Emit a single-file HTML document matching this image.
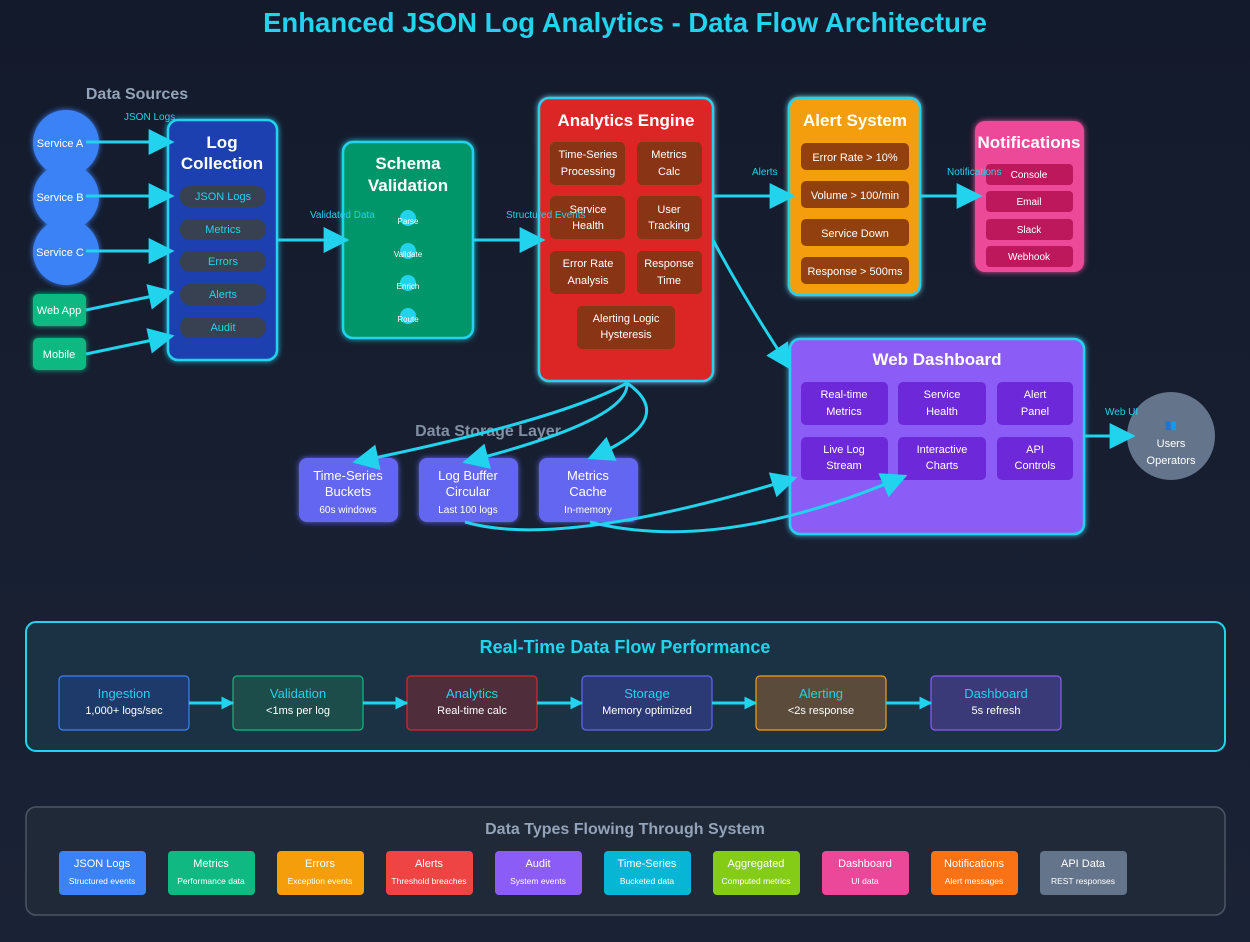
<!DOCTYPE html>
<html><head><meta charset="utf-8"><style>
html,body{margin:0;padding:0;background:#141b2d;}
svg{display:block;font-family:"Liberation Sans",sans-serif;}
</style></head><body>
<svg width="1250" height="942" viewBox="0 0 1250 942" xmlns="http://www.w3.org/2000/svg">
<defs>
<marker id="a" viewBox="0 0 10 10" refX="9" refY="5" markerWidth="13" markerHeight="16" markerUnits="userSpaceOnUse" orient="auto"><path d="M0,0L10,5L0,10z" fill="#22d3ee"/></marker>
<marker id="b" viewBox="0 0 10 10" refX="9" refY="5" markerWidth="36" markerHeight="26" markerUnits="userSpaceOnUse" orient="auto"><path d="M0,0L10,5L0,10z" fill="#22d3ee"/></marker>
<filter id="g" x="-20%" y="-20%" width="140%" height="140%"><feGaussianBlur stdDeviation="3" result="b"/><feMerge><feMergeNode in="b"/><feMergeNode in="SourceGraphic"/></feMerge></filter>
<linearGradient id="bg" x1="0" y1="0" x2="0" y2="1"><stop offset="0" stop-color="#131a2c"/><stop offset="1" stop-color="#1a2335"/></linearGradient>
</defs>
<rect width="1250" height="942" fill="url(#bg)"/>
<text x="625" y="32" text-anchor="middle" font-size="27.5" font-weight="bold" fill="#22d3ee">Enhanced JSON Log Analytics - Data Flow Architecture</text>

<text x="137" y="99" text-anchor="middle" font-size="16" font-weight="bold" fill="#94a3b8">Data Sources</text>
<g filter="url(#g)">
<circle cx="66" cy="143" r="33" fill="#3b82f6"/>
<circle cx="66" cy="197" r="33" fill="#3b82f6"/>
<circle cx="66" cy="252" r="33" fill="#3b82f6"/>
<rect x="33" y="294" width="53" height="32" rx="5" fill="#10b981"/>
<rect x="33" y="338" width="53" height="32" rx="5" fill="#10b981"/>
</g>
<g font-size="11" fill="#fff" text-anchor="middle">
<text x="60" y="147">Service A</text><text x="60" y="201">Service B</text><text x="60" y="256">Service C</text>
<text x="59" y="314">Web App</text><text x="59" y="358">Mobile</text>
</g>

<!-- Log Collection -->
<rect x="168" y="120" width="109" height="240" rx="10" fill="#1e40af" stroke="#22d3ee" stroke-width="2.5" filter="url(#g)"/>
<g font-size="17" font-weight="bold" fill="#fff" text-anchor="middle"><text x="222" y="148">Log</text><text x="222" y="169">Collection</text></g>
<g fill="#374151"><rect x="180" y="186" width="86" height="21" rx="10"/><rect x="180" y="219" width="86" height="21" rx="10"/><rect x="180" y="251" width="86" height="21" rx="10"/><rect x="180" y="284" width="86" height="21" rx="10"/><rect x="180" y="317" width="86" height="21" rx="10"/></g>
<g font-size="11" fill="#22d3ee" text-anchor="middle"><text x="223" y="200">JSON Logs</text><text x="223" y="233">Metrics</text><text x="223" y="265">Errors</text><text x="223" y="298">Alerts</text><text x="223" y="331">Audit</text></g>

<!-- Schema -->
<rect x="343" y="142" width="130" height="196" rx="10" fill="#059669" stroke="#22d3ee" stroke-width="2.5" filter="url(#g)"/>
<g font-size="17" font-weight="bold" fill="#fff" text-anchor="middle"><text x="408" y="169">Schema</text><text x="408" y="191">Validation</text></g>
<g fill="#22d3ee"><circle cx="408" cy="218" r="8"/><circle cx="408" cy="251" r="8"/><circle cx="408" cy="283" r="8"/><circle cx="408" cy="316" r="8"/></g>
<g font-size="8" fill="#fff" text-anchor="middle"><text x="408" y="224">Parse</text><text x="408" y="257">Validate</text><text x="408" y="289">Enrich</text><text x="408" y="322">Route</text></g>

<!-- Analytics -->
<rect x="539" y="98" width="174" height="283" rx="10" fill="#dc2626" stroke="#22d3ee" stroke-width="2.5" filter="url(#g)"/>
<text x="626" y="126" text-anchor="middle" font-size="17" font-weight="bold" fill="#fff">Analytics Engine</text>
<g fill="#8a3416">
<rect x="550" y="142" width="75" height="43" rx="5"/><rect x="637" y="142" width="65" height="43" rx="5"/>
<rect x="550" y="196" width="75" height="43" rx="5"/><rect x="637" y="196" width="65" height="43" rx="5"/>
<rect x="550" y="251" width="75" height="43" rx="5"/><rect x="637" y="251" width="65" height="43" rx="5"/>
<rect x="577" y="306" width="98" height="43" rx="5"/>
</g>
<g font-size="11" fill="#fff" text-anchor="middle">
<text x="588" y="158">Time-Series</text><text x="588" y="175">Processing</text>
<text x="669" y="158">Metrics</text><text x="669" y="175">Calc</text>
<text x="588" y="213">Service</text><text x="588" y="229">Health</text>
<text x="669" y="213">User</text><text x="669" y="229">Tracking</text>
<text x="588" y="267">Error Rate</text><text x="588" y="284">Analysis</text>
<text x="669" y="267">Response</text><text x="669" y="284">Time</text>
<text x="626" y="322">Alerting Logic</text><text x="626" y="338">Hysteresis</text>
</g>

<!-- Alert -->
<rect x="789" y="98" width="131" height="197" rx="10" fill="#f59e0b" stroke="#22d3ee" stroke-width="2.5" filter="url(#g)"/>
<text x="855" y="126" text-anchor="middle" font-size="17" font-weight="bold" fill="#fff">Alert System</text>
<g fill="#92400e"><rect x="801" y="143" width="108" height="27" rx="5"/><rect x="801" y="181" width="108" height="27" rx="5"/><rect x="801" y="219" width="108" height="27" rx="5"/><rect x="801" y="257" width="108" height="27" rx="5"/></g>
<g font-size="11" fill="#fff" text-anchor="middle"><text x="855" y="161">Error Rate &gt; 10%</text><text x="855" y="199">Volume &gt; 100/min</text><text x="855" y="237">Service Down</text><text x="855" y="275">Response &gt; 500ms</text></g>

<!-- Notifications -->
<rect x="975" y="121" width="109" height="151" rx="10" fill="#ec4899" filter="url(#g)"/>
<text x="1029" y="148" text-anchor="middle" font-size="17" font-weight="bold" fill="#fff">Notifications</text>
<g fill="#be185d"><rect x="986" y="164" width="87" height="21" rx="4"/><rect x="986" y="191" width="87" height="21" rx="4"/><rect x="986" y="219" width="87" height="21" rx="4"/><rect x="986" y="246" width="87" height="21" rx="4"/></g>
<g font-size="10" fill="#fff" text-anchor="middle"><text x="1029" y="178">Console</text><text x="1029" y="205">Email</text><text x="1029" y="233">Slack</text><text x="1029" y="260">Webhook</text></g>

<!-- Dashboard -->
<rect x="790" y="339" width="294" height="195" rx="10" fill="#8b5cf6" stroke="#22d3ee" stroke-width="2.5" filter="url(#g)"/>
<text x="937" y="365" text-anchor="middle" font-size="17" font-weight="bold" fill="#fff">Web Dashboard</text>
<g fill="#6d28d9">
<rect x="801" y="382" width="87" height="43" rx="5"/><rect x="898" y="382" width="88" height="43" rx="5"/><rect x="997" y="382" width="76" height="43" rx="5"/>
<rect x="801" y="437" width="87" height="43" rx="5"/><rect x="898" y="437" width="88" height="43" rx="5"/><rect x="997" y="437" width="76" height="43" rx="5"/>
</g>
<g font-size="11" fill="#fff" text-anchor="middle">
<text x="844" y="398">Real-time</text><text x="844" y="415">Metrics</text>
<text x="942" y="398">Service</text><text x="942" y="415">Health</text>
<text x="1035" y="398">Alert</text><text x="1035" y="415">Panel</text>
<text x="844" y="453">Live Log</text><text x="844" y="469">Stream</text>
<text x="942" y="453">Interactive</text><text x="942" y="469">Charts</text>
<text x="1035" y="453">API</text><text x="1035" y="469">Controls</text>
</g>
<circle cx="1171" cy="436" r="44" fill="#64748b"/>
<g font-size="11" fill="#fff" text-anchor="middle"><text x="1171" y="428" fill="#94a3b8" font-size="10">👥</text><text x="1171" y="447">Users</text><text x="1171" y="464">Operators</text></g>

<!-- Storage -->
<text x="488" y="436" text-anchor="middle" font-size="16" font-weight="bold" fill="#94a3b8" opacity="0.85">Data Storage Layer</text>
<g fill="#6366f1" filter="url(#g)"><rect x="299" y="458" width="99" height="64" rx="8"/><rect x="419" y="458" width="99" height="64" rx="8"/><rect x="539" y="458" width="99" height="64" rx="8"/></g>
<g fill="#fff" text-anchor="middle" font-size="13">
<text x="348" y="480">Time-Series</text><text x="348" y="496">Buckets</text><text x="348" y="513" font-size="10">60s windows</text>
<text x="468" y="480">Log Buffer</text><text x="468" y="496">Circular</text><text x="468" y="513" font-size="10">Last 100 logs</text>
<text x="588" y="480">Metrics</text><text x="588" y="496">Cache</text><text x="588" y="513" font-size="10">In-memory</text>
</g>

<!-- Connectors on top -->
<g stroke="#22d3ee" stroke-width="3" fill="none">
<line x1="86" y1="142" x2="172" y2="142" marker-end="url(#b)"/>
<line x1="86" y1="196" x2="172" y2="196" marker-end="url(#b)"/>
<line x1="86" y1="251" x2="172" y2="251" marker-end="url(#b)"/>
<line x1="86" y1="310" x2="172" y2="292" marker-end="url(#b)"/>
<line x1="86" y1="354" x2="172" y2="336" marker-end="url(#b)"/>
<line x1="277" y1="240" x2="347" y2="240" marker-end="url(#b)"/>
<line x1="473" y1="240" x2="543" y2="240" marker-end="url(#b)"/>
<line x1="713" y1="196" x2="793" y2="196" marker-end="url(#b)"/>
<line x1="920" y1="196" x2="980" y2="196" marker-end="url(#b)"/>
<path d="M713,240 Q745,300 790,368" marker-end="url(#b)"/>
<path d="M627,383 Q560,420 355,462" marker-end="url(#b)"/>
<path d="M627,383 Q630,420 465,462" marker-end="url(#b)"/>
<path d="M627,383 Q680,420 590,458" marker-end="url(#b)"/>
<path d="M465,522 Q560,550 795,478" marker-end="url(#b)"/>
<path d="M590,522 Q720,555 905,476" marker-end="url(#b)"/>
<line x1="1083" y1="436" x2="1133" y2="436" marker-end="url(#b)"/>
</g>
<g font-size="10" fill="#22d3ee">
<text x="124" y="120">JSON Logs</text>
<text x="310" y="218">Validated Data</text>
<text x="506" y="218">Structured Events</text>
<text x="752" y="175">Alerts</text>
<text x="947" y="175">Notifications</text>
<text x="1105" y="415">Web UI</text>
</g>

<!-- Performance -->
<rect x="26" y="622" width="1199" height="129" rx="10" fill="#1b3245" stroke="#22d3ee" stroke-width="2"/>
<text x="625" y="653" text-anchor="middle" font-size="18" font-weight="bold" fill="#22d3ee">Real-Time Data Flow Performance</text>
<g stroke-width="1.2">
<rect x="59" y="676" width="130" height="54" rx="4" fill="#1e3a6a" stroke="#3b82f6"/>
<rect x="233" y="676" width="130" height="54" rx="4" fill="#1d4d4a" stroke="#10b981"/>
<rect x="407" y="676" width="130" height="54" rx="4" fill="#4f2d3a" stroke="#dc2626"/>
<rect x="582" y="676" width="130" height="54" rx="4" fill="#2b3a74" stroke="#6366f1"/>
<rect x="756" y="676" width="130" height="54" rx="4" fill="#5a4b3a" stroke="#f59e0b"/>
<rect x="931" y="676" width="130" height="54" rx="4" fill="#3a3a78" stroke="#8b5cf6"/>
</g>
<g stroke="#22d3ee" stroke-width="3">
<line x1="189" y1="703" x2="233" y2="703" marker-end="url(#a)"/>
<line x1="363" y1="703" x2="407" y2="703" marker-end="url(#a)"/>
<line x1="537" y1="703" x2="582" y2="703" marker-end="url(#a)"/>
<line x1="712" y1="703" x2="756" y2="703" marker-end="url(#a)"/>
<line x1="886" y1="703" x2="931" y2="703" marker-end="url(#a)"/>
</g>
<g text-anchor="middle">
<g font-size="13" fill="#22d3ee"><text x="124" y="698">Ingestion</text><text x="298" y="698">Validation</text><text x="472" y="698">Analytics</text><text x="647" y="698">Storage</text><text x="821" y="698">Alerting</text><text x="996" y="698">Dashboard</text></g>
<g font-size="11" fill="#fff"><text x="124" y="714">1,000+ logs/sec</text><text x="298" y="714">&lt;1ms per log</text><text x="472" y="714">Real-time calc</text><text x="647" y="714">Memory optimized</text><text x="821" y="714">&lt;2s response</text><text x="996" y="714">5s refresh</text></g>
</g>

<!-- Data types -->
<rect x="26" y="807" width="1199" height="108" rx="10" fill="#1f2937" stroke="#4b5563" stroke-width="1.5"/>
<text x="625" y="834" text-anchor="middle" font-size="16" font-weight="bold" fill="#94a3b8">Data Types Flowing Through System</text>
<g>
<rect x="59" y="851" width="87" height="44" rx="4" fill="#3b82f6"/>
<rect x="168" y="851" width="87" height="44" rx="4" fill="#10b981"/>
<rect x="277" y="851" width="87" height="44" rx="4" fill="#f59e0b"/>
<rect x="386" y="851" width="87" height="44" rx="4" fill="#ef4444"/>
<rect x="495" y="851" width="87" height="44" rx="4" fill="#8b5cf6"/>
<rect x="604" y="851" width="87" height="44" rx="4" fill="#06b6d4"/>
<rect x="713" y="851" width="87" height="44" rx="4" fill="#84cc16"/>
<rect x="822" y="851" width="87" height="44" rx="4" fill="#ec4899"/>
<rect x="931" y="851" width="87" height="44" rx="4" fill="#f97316"/>
<rect x="1040" y="851" width="87" height="44" rx="4" fill="#64748b"/>
</g>
<g text-anchor="middle" fill="#fff">
<g font-size="11"><text x="102" y="867">JSON Logs</text><text x="211" y="867">Metrics</text><text x="320" y="867">Errors</text><text x="429" y="867">Alerts</text><text x="538" y="867">Audit</text><text x="647" y="867">Time-Series</text><text x="756" y="867">Aggregated</text><text x="865" y="867">Dashboard</text><text x="974" y="867">Notifications</text><text x="1083" y="867">API Data</text></g>
<g font-size="8.5"><text x="102" y="884">Structured events</text><text x="211" y="884">Performance data</text><text x="320" y="884">Exception events</text><text x="429" y="884">Threshold breaches</text><text x="538" y="884">System events</text><text x="647" y="884">Bucketed data</text><text x="756" y="884">Computed metrics</text><text x="865" y="884">UI data</text><text x="974" y="884">Alert messages</text><text x="1083" y="884">REST responses</text></g>
</g>
</svg>
</body></html>
